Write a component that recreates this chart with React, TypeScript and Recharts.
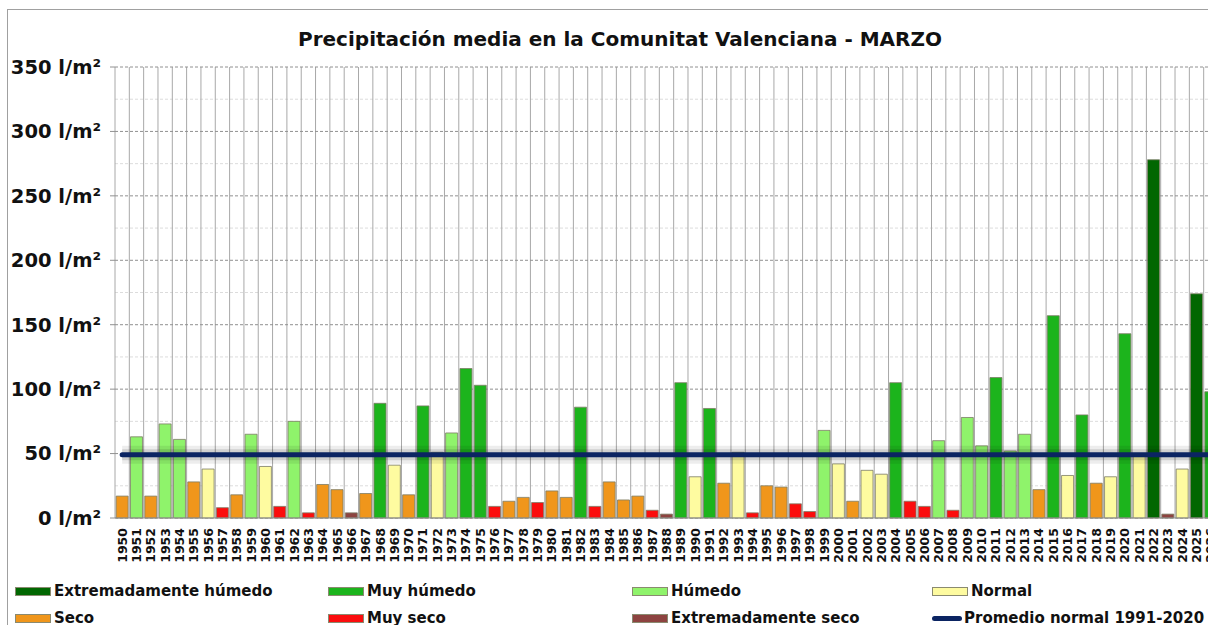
import { ComposedChart, Bar, Cell, Line, XAxis, YAxis, CartesianGrid } from 'recharts'

const YEARS = [
  '1950', '1951', '1952', '1953', '1954', '1955', '1956', '1957', '1958', '1959',
  '1960', '1961', '1962', '1963', '1964', '1965', '1966', '1967', '1968', '1969',
  '1970', '1971', '1972', '1973', '1974', '1975', '1976', '1977', '1978', '1979',
  '1980', '1981', '1982', '1983', '1984', '1985', '1986', '1987', '1988', '1989',
  '1990', '1991', '1992', '1993', '1994', '1995', '1996', '1997', '1998', '1999',
  '2000', '2001', '2002', '2003', '2004', '2005', '2006', '2007', '2008', '2009',
  '2010', '2011', '2012', '2013', '2014', '2015', '2016', '2017', '2018', '2019',
  '2020', '2021', '2022', '2023', '2024', '2025', '2026',
]

// l/m² per year
const PRECIP = [
  17, 63, 17, 73, 61, 28, 38, 8, 18, 65,
  40, 9, 75, 4, 26, 22, 4, 19, 89, 41,
  18, 87, 51, 66, 116, 103, 9, 13, 16, 12,
  21, 16, 86, 9, 28, 14, 17, 6, 3, 105,
  32, 85, 27, 51, 4, 25, 24, 11, 5, 68,
  42, 13, 37, 34, 105, 13, 9, 60, 6, 78,
  56, 109, 52, 65, 22, 157, 33, 80, 27, 32,
  143, 48, 278, 3, 38, 174, 98,
]

// EH extremadamente húmedo, MH muy húmedo, H húmedo, N normal, S seco, MS muy seco, ES extremadamente seco
const CLASS = [
  'S', 'H', 'S', 'H', 'H', 'S', 'N', 'MS', 'S', 'H',
  'N', 'MS', 'H', 'MS', 'S', 'S', 'ES', 'S', 'MH', 'N',
  'S', 'MH', 'N', 'H', 'MH', 'MH', 'MS', 'S', 'S', 'MS',
  'S', 'S', 'MH', 'MS', 'S', 'S', 'S', 'MS', 'ES', 'MH',
  'N', 'MH', 'S', 'N', 'MS', 'S', 'S', 'MS', 'MS', 'H',
  'N', 'S', 'N', 'N', 'MH', 'MS', 'MS', 'H', 'MS', 'H',
  'H', 'MH', 'H', 'H', 'S', 'MH', 'N', 'MH', 'S', 'N',
  'MH', 'N', 'EH', 'ES', 'N', 'EH', 'MH',
]

const NORMAL_AVG = 49

const Y_TICKS = [0, 50, 100, 150, 200, 250, 300, 350]
const MINOR_TICKS = [25, 75, 125, 175, 225, 275, 325]

const COLORS: Record<string, string> = {
  EH: '#016701',
  MH: '#1cb41c',
  H: '#8ff36b',
  N: '#fefba0',
  S: '#f0961b',
  MS: '#fb0d0d',
  ES: '#8d4340',
}

const LEGEND = [
  { key: 'EH', label: 'Extremadamente húmedo' },
  { key: 'MH', label: 'Muy húmedo' },
  { key: 'H', label: 'Húmedo' },
  { key: 'N', label: 'Normal' },
  { key: 'S', label: 'Seco' },
  { key: 'MS', label: 'Muy seco' },
  { key: 'ES', label: 'Extremadamente seco' },
  { key: 'LINE', label: 'Promedio normal 1991-2020' },
]

const NAVY = '#0b2462'
const FONT = '"DejaVu Sans", Verdana, sans-serif'

const data = YEARS.map((year, i) => ({
  year,
  value: PRECIP[i],
  cls: CLASS[i],
  normal: NORMAL_AVG,
}))

// vertical grid lines sit on the category boundaries, not the centers
const boundaryLines = ({ offset }: any) => {
  const n = YEARS.length
  const step = offset.width / n
  return Array.from({ length: n + 1 }, (_, i) => offset.left + i * step)
}

function YearTick({ x, y, payload }: any) {
  return (
    <g transform={`translate(${x},${y + 2})`}>
      <text
        transform="rotate(-90)"
        textAnchor="end"
        dy="0.36em"
        fontFamily={FONT}
        fontWeight="bold"
        fontSize={12.5}
        fill="#111"
      >
        {payload.value}
      </text>
    </g>
  )
}

function LegendItem({ k, label }: { k: string; label: string }) {
  const swatch =
    k === 'LINE' ? (
      <span style={{ width: 30, height: 5, borderRadius: 3, background: NAVY, display: 'inline-block', marginRight: 2 }} />
    ) : (
      <span
        style={{
          width: 36,
          height: 9,
          background: COLORS[k],
          border: '1px solid #8a8a70',
          boxSizing: 'border-box',
          display: 'inline-block',
          marginRight: 3,
        }}
      />
    )
  return (
    <div style={{ display: 'flex', alignItems: 'center', fontFamily: FONT, fontWeight: 'bold', fontSize: 15, color: '#111', whiteSpace: 'nowrap' }}>
      {swatch}
      {label}
    </div>
  )
}

const LEGEND_X = [7, 320, 624, 924]

export default function App() {
  return (
    <div style={{ position: 'fixed', left: 0, top: 0, width: 1208, height: 625, overflow: 'hidden', background: '#fff' }}>
      <div style={{ position: 'absolute', left: 8, top: 8, width: 1300, height: 700 }}>
        <div
          style={{
            position: 'absolute',
            left: -1,
            top: 1,
            width: 1300,
            height: 700,
            border: '1px solid #a0a0a0',
          }}
        />
        <div
          style={{
            position: 'absolute',
            left: 0,
            width: 1224,
            top: 19,
            textAlign: 'center',
            fontFamily: FONT,
            fontWeight: 'bold',
            fontSize: 20,
            color: '#111',
          }}
        >
          Precipitación media en la Comunitat Valenciana - MARZO
        </div>
        <div style={{ position: 'absolute', left: 0, top: 0 }}>
          <ComposedChart
            width={1210}
            height={571}
            data={data}
            margin={{ top: 59, right: 0, bottom: 5, left: 7 }}
            barCategoryGap="8%"
          >
            <CartesianGrid
              vertical={false}
              horizontalValues={MINOR_TICKS}
              stroke="#dcdcdc"
              strokeDasharray="3 2"
            />
            <CartesianGrid
              horizontal={false}
              verticalCoordinatesGenerator={boundaryLines}
              stroke="#a8a8a8"
            />
            <CartesianGrid vertical={false} stroke="#909090" strokeDasharray="3 2" />
            <XAxis
              dataKey="year"
              interval={0}
              height={56}
              tickLine={false}
              axisLine={{ stroke: '#909090' }}
              tick={<YearTick />}
            />
            <YAxis
              domain={[0, 350]}
              ticks={Y_TICKS}
              width={100}
              axisLine={false}
              tickLine={{ stroke: '#909090' }}
              tickSize={5}
              tickMargin={9}
              tickFormatter={(v: number) => `${v} l/m²`}
              tick={{ fontFamily: FONT, fontWeight: 'bold', fontSize: 19.5, fill: '#111' }}
            />
            <Bar dataKey="value" stroke="#7c7c66" strokeWidth={0.8} isAnimationActive={false}>
              {data.map(d => (
                <Cell key={d.year} fill={COLORS[d.cls]} />
              ))}
            </Bar>
            <Line dataKey="normal" stroke="#000" strokeOpacity={0.07} strokeWidth={18} dot={false} activeDot={false} isAnimationActive={false} />
            <Line dataKey="normal" stroke="#000" strokeOpacity={0.12} strokeWidth={11} dot={false} activeDot={false} isAnimationActive={false} />
            <Line dataKey="normal" stroke={NAVY} strokeWidth={5} strokeLinecap="round" dot={false} activeDot={false} isAnimationActive={false} />
          </ComposedChart>
        </div>
        {LEGEND.map((item, i) => (
          <div
            key={item.key}
            style={{ position: 'absolute', left: LEGEND_X[i % 4], top: i < 4 ? 574 : 601 }}
          >
            <LegendItem k={item.key} label={item.label} />
          </div>
        ))}
      </div>
    </div>
  )
}
